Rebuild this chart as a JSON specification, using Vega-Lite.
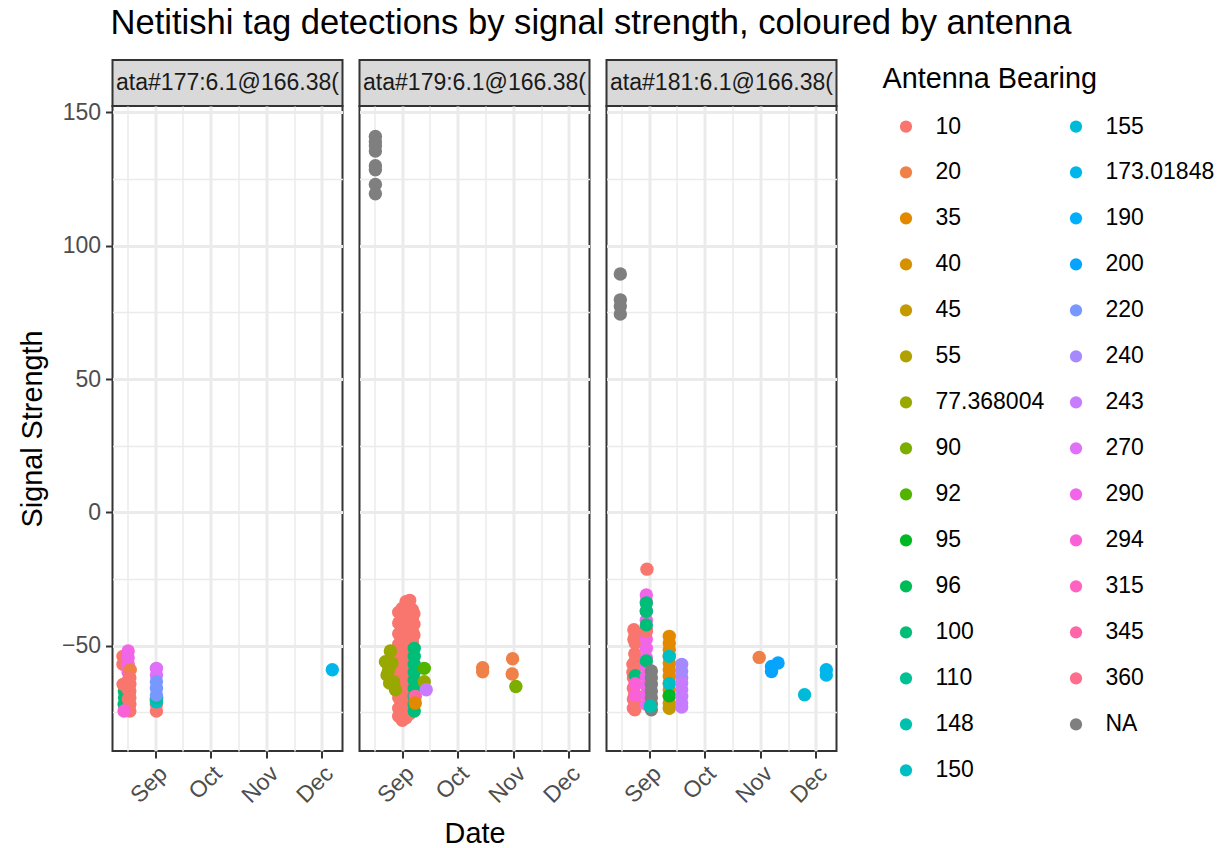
{
  "$schema": "https://vega.github.io/schema/vega-lite/v6.json",
  "padding": {"left": 16.5, "top": 6, "right": 5, "bottom": 2},
  "title": {"text": "Netitishi tag detections by signal strength, coloured by antenna", "anchor": "start", "fontSize": 34.6, "fontWeight": "normal", "color": "#000000", "offset": 17, "dx": 93},
  "datasets": {
    "strips": [
      {"panel": 1, "label": "ata#177:6.1@166.38("},
      {"panel": 2, "label": "ata#179:6.1@166.38("},
      {"panel": 3, "label": "ata#181:6.1@166.38("}
    ],
    "pts": [
      {"panel": 1, "date": "2021-08-15T00:00", "signal": -67, "bearing": "100"},
      {"panel": 1, "date": "2021-08-15T02:00", "signal": -69.5, "bearing": "100"},
      {"panel": 1, "date": "2021-08-14T22:00", "signal": -72, "bearing": "100"},
      {"panel": 1, "date": "2021-08-16T12:00", "signal": -55.5, "bearing": "96"},
      {"panel": 1, "date": "2021-08-14T06:00", "signal": -54, "bearing": "10"},
      {"panel": 1, "date": "2021-08-14T06:00", "signal": -57, "bearing": "10"},
      {"panel": 1, "date": "2021-08-14T08:00", "signal": -64.5, "bearing": "10"},
      {"panel": 1, "date": "2021-08-17T02:00", "signal": -52, "bearing": "290"},
      {"panel": 1, "date": "2021-08-17T02:00", "signal": -54.5, "bearing": "290"},
      {"panel": 1, "date": "2021-08-17T02:00", "signal": -57, "bearing": "290"},
      {"panel": 1, "date": "2021-08-17T02:00", "signal": -60, "bearing": "290"},
      {"panel": 1, "date": "2021-08-18T06:00", "signal": -59, "bearing": "20"},
      {"panel": 1, "date": "2021-08-17T04:00", "signal": -63, "bearing": "10"},
      {"panel": 1, "date": "2021-08-17T04:00", "signal": -66.5, "bearing": "10"},
      {"panel": 1, "date": "2021-08-17T04:00", "signal": -70, "bearing": "10"},
      {"panel": 1, "date": "2021-08-17T04:00", "signal": -73.5, "bearing": "10"},
      {"panel": 1, "date": "2021-08-18T00:00", "signal": -62, "bearing": "10"},
      {"panel": 1, "date": "2021-08-18T00:00", "signal": -64.5, "bearing": "10"},
      {"panel": 1, "date": "2021-08-18T00:00", "signal": -67, "bearing": "10"},
      {"panel": 1, "date": "2021-08-18T00:00", "signal": -69.5, "bearing": "10"},
      {"panel": 1, "date": "2021-08-18T00:00", "signal": -72, "bearing": "10"},
      {"panel": 1, "date": "2021-08-18T00:00", "signal": -74.5, "bearing": "10"},
      {"panel": 1, "date": "2021-08-14T20:00", "signal": -74.5, "bearing": "294"},
      {"panel": 1, "date": "2021-09-01T14:00", "signal": -74.5, "bearing": "10"},
      {"panel": 1, "date": "2021-09-01T14:00", "signal": -72, "bearing": "10"},
      {"panel": 1, "date": "2021-09-01T10:00", "signal": -70, "bearing": "20"},
      {"panel": 1, "date": "2021-09-01T14:00", "signal": -71, "bearing": "150"},
      {"panel": 1, "date": "2021-09-01T18:00", "signal": -69.5, "bearing": "110"},
      {"panel": 1, "date": "2021-09-01T14:00", "signal": -58.5, "bearing": "270"},
      {"panel": 1, "date": "2021-09-01T14:00", "signal": -61, "bearing": "270"},
      {"panel": 1, "date": "2021-09-01T14:00", "signal": -63.5, "bearing": "220"},
      {"panel": 1, "date": "2021-09-01T14:00", "signal": -66, "bearing": "220"},
      {"panel": 1, "date": "2021-09-01T14:00", "signal": -68.5, "bearing": "220"},
      {"panel": 1, "date": "2021-12-07T00:00", "signal": -59, "bearing": "173.01848"},

      {"panel": 2, "date": "2021-08-17T05:00", "signal": 141, "bearing": "NA"},
      {"panel": 2, "date": "2021-08-17T05:00", "signal": 139, "bearing": "NA"},
      {"panel": 2, "date": "2021-08-17T05:00", "signal": 137.5, "bearing": "NA"},
      {"panel": 2, "date": "2021-08-17T05:00", "signal": 135.5, "bearing": "NA"},
      {"panel": 2, "date": "2021-08-17T05:00", "signal": 130, "bearing": "NA"},
      {"panel": 2, "date": "2021-08-17T05:00", "signal": 128.5, "bearing": "NA"},
      {"panel": 2, "date": "2021-08-17T05:00", "signal": 123, "bearing": "NA"},
      {"panel": 2, "date": "2021-08-17T05:00", "signal": 119.5, "bearing": "NA"},
      {"panel": 2, "date": "2021-09-02T12:00", "signal": -47, "bearing": "294"},
      {"panel": 2, "date": "2021-09-02T12:00", "signal": -55, "bearing": "294"},
      {"panel": 2, "date": "2021-09-02T12:00", "signal": -63, "bearing": "294"},
      {"panel": 2, "date": "2021-09-03T18:00", "signal": -51, "bearing": "290"},
      {"panel": 2, "date": "2021-09-03T18:00", "signal": -59, "bearing": "290"},
      {"panel": 2, "date": "2021-09-03T18:00", "signal": -67, "bearing": "290"},
      {"panel": 2, "date": "2021-08-31T12:00", "signal": -47, "bearing": "100"},
      {"panel": 2, "date": "2021-08-31T12:00", "signal": -55, "bearing": "100"},
      {"panel": 2, "date": "2021-08-31T12:00", "signal": -63, "bearing": "110"},
      {"panel": 2, "date": "2021-08-30T00:00", "signal": -37.5, "bearing": "10"},
      {"panel": 2, "date": "2021-08-30T00:00", "signal": -41.5, "bearing": "10"},
      {"panel": 2, "date": "2021-08-30T00:00", "signal": -45.5, "bearing": "10"},
      {"panel": 2, "date": "2021-08-30T00:00", "signal": -49.5, "bearing": "10"},
      {"panel": 2, "date": "2021-08-30T00:00", "signal": -53.5, "bearing": "10"},
      {"panel": 2, "date": "2021-08-30T00:00", "signal": -57.5, "bearing": "10"},
      {"panel": 2, "date": "2021-08-30T00:00", "signal": -61.5, "bearing": "10"},
      {"panel": 2, "date": "2021-08-30T00:00", "signal": -65.5, "bearing": "10"},
      {"panel": 2, "date": "2021-08-30T00:00", "signal": -69.5, "bearing": "10"},
      {"panel": 2, "date": "2021-08-30T00:00", "signal": -73.5, "bearing": "10"},
      {"panel": 2, "date": "2021-08-30T00:00", "signal": -76.5, "bearing": "10"},
      {"panel": 2, "date": "2021-09-01T00:00", "signal": -36, "bearing": "10"},
      {"panel": 2, "date": "2021-09-01T00:00", "signal": -40, "bearing": "10"},
      {"panel": 2, "date": "2021-09-01T00:00", "signal": -44, "bearing": "10"},
      {"panel": 2, "date": "2021-09-01T00:00", "signal": -48, "bearing": "10"},
      {"panel": 2, "date": "2021-09-01T00:00", "signal": -52, "bearing": "10"},
      {"panel": 2, "date": "2021-09-01T00:00", "signal": -56, "bearing": "10"},
      {"panel": 2, "date": "2021-09-01T00:00", "signal": -60, "bearing": "10"},
      {"panel": 2, "date": "2021-09-01T00:00", "signal": -64, "bearing": "10"},
      {"panel": 2, "date": "2021-09-01T00:00", "signal": -68, "bearing": "10"},
      {"panel": 2, "date": "2021-09-01T00:00", "signal": -72, "bearing": "10"},
      {"panel": 2, "date": "2021-09-01T00:00", "signal": -76, "bearing": "10"},
      {"panel": 2, "date": "2021-09-01T00:00", "signal": -78, "bearing": "10"},
      {"panel": 2, "date": "2021-09-03T00:00", "signal": -33.5, "bearing": "10"},
      {"panel": 2, "date": "2021-09-03T00:00", "signal": -37.5, "bearing": "10"},
      {"panel": 2, "date": "2021-09-03T00:00", "signal": -41.5, "bearing": "10"},
      {"panel": 2, "date": "2021-09-03T00:00", "signal": -45.5, "bearing": "10"},
      {"panel": 2, "date": "2021-09-03T00:00", "signal": -49.5, "bearing": "10"},
      {"panel": 2, "date": "2021-09-03T00:00", "signal": -53.5, "bearing": "10"},
      {"panel": 2, "date": "2021-09-03T00:00", "signal": -57.5, "bearing": "10"},
      {"panel": 2, "date": "2021-09-03T00:00", "signal": -61.5, "bearing": "10"},
      {"panel": 2, "date": "2021-09-03T00:00", "signal": -65.5, "bearing": "10"},
      {"panel": 2, "date": "2021-09-03T00:00", "signal": -69.5, "bearing": "10"},
      {"panel": 2, "date": "2021-09-03T00:00", "signal": -73.5, "bearing": "10"},
      {"panel": 2, "date": "2021-09-03T00:00", "signal": -77, "bearing": "10"},
      {"panel": 2, "date": "2021-09-05T00:00", "signal": -33, "bearing": "10"},
      {"panel": 2, "date": "2021-09-05T00:00", "signal": -37, "bearing": "10"},
      {"panel": 2, "date": "2021-09-05T00:00", "signal": -41, "bearing": "10"},
      {"panel": 2, "date": "2021-09-05T00:00", "signal": -45, "bearing": "10"},
      {"panel": 2, "date": "2021-09-05T00:00", "signal": -49, "bearing": "10"},
      {"panel": 2, "date": "2021-09-05T00:00", "signal": -53, "bearing": "10"},
      {"panel": 2, "date": "2021-09-05T00:00", "signal": -57, "bearing": "10"},
      {"panel": 2, "date": "2021-09-05T00:00", "signal": -61, "bearing": "10"},
      {"panel": 2, "date": "2021-09-05T00:00", "signal": -65, "bearing": "10"},
      {"panel": 2, "date": "2021-09-05T00:00", "signal": -69, "bearing": "10"},
      {"panel": 2, "date": "2021-09-05T00:00", "signal": -73, "bearing": "10"},
      {"panel": 2, "date": "2021-09-05T00:00", "signal": -75.5, "bearing": "10"},
      {"panel": 2, "date": "2021-09-06T12:00", "signal": -36.5, "bearing": "10"},
      {"panel": 2, "date": "2021-09-06T12:00", "signal": -40.5, "bearing": "10"},
      {"panel": 2, "date": "2021-09-06T12:00", "signal": -44.5, "bearing": "10"},
      {"panel": 2, "date": "2021-09-06T12:00", "signal": -48.5, "bearing": "10"},
      {"panel": 2, "date": "2021-09-06T12:00", "signal": -52.5, "bearing": "10"},
      {"panel": 2, "date": "2021-09-06T12:00", "signal": -56.5, "bearing": "10"},
      {"panel": 2, "date": "2021-09-06T12:00", "signal": -60.5, "bearing": "10"},
      {"panel": 2, "date": "2021-09-06T12:00", "signal": -64.5, "bearing": "10"},
      {"panel": 2, "date": "2021-09-06T12:00", "signal": -68.5, "bearing": "10"},
      {"panel": 2, "date": "2021-09-06T12:00", "signal": -72.5, "bearing": "10"},
      {"panel": 2, "date": "2021-09-07T08:00", "signal": -38, "bearing": "10"},
      {"panel": 2, "date": "2021-09-07T08:00", "signal": -42, "bearing": "10"},
      {"panel": 2, "date": "2021-09-07T08:00", "signal": -46, "bearing": "10"},
      {"panel": 2, "date": "2021-09-07T12:00", "signal": -51, "bearing": "100"},
      {"panel": 2, "date": "2021-09-07T12:00", "signal": -54, "bearing": "100"},
      {"panel": 2, "date": "2021-09-07T12:00", "signal": -57, "bearing": "100"},
      {"panel": 2, "date": "2021-09-07T12:00", "signal": -60, "bearing": "100"},
      {"panel": 2, "date": "2021-09-07T12:00", "signal": -63, "bearing": "100"},
      {"panel": 2, "date": "2021-09-07T12:00", "signal": -66, "bearing": "100"},
      {"panel": 2, "date": "2021-09-07T12:00", "signal": -69, "bearing": "100"},
      {"panel": 2, "date": "2021-09-07T12:00", "signal": -72, "bearing": "100"},
      {"panel": 2, "date": "2021-09-07T12:00", "signal": -74.5, "bearing": "100"},
      {"panel": 2, "date": "2021-08-25T10:00", "signal": -52, "bearing": "77.368004"},
      {"panel": 2, "date": "2021-08-22T17:00", "signal": -56, "bearing": "77.368004"},
      {"panel": 2, "date": "2021-08-23T14:00", "signal": -61, "bearing": "77.368004"},
      {"panel": 2, "date": "2021-08-27T05:00", "signal": -63.5, "bearing": "77.368004"},
      {"panel": 2, "date": "2021-08-28T05:00", "signal": -66.5, "bearing": "77.368004"},
      {"panel": 2, "date": "2021-08-24T12:00", "signal": -59, "bearing": "77.368004"},
      {"panel": 2, "date": "2021-08-26T07:00", "signal": -56.5, "bearing": "77.368004"},
      {"panel": 2, "date": "2021-08-25T00:00", "signal": -64, "bearing": "77.368004"},
      {"panel": 2, "date": "2021-09-08T02:00", "signal": -69, "bearing": "345"},
      {"panel": 2, "date": "2021-09-08T02:00", "signal": -71.5, "bearing": "35"},
      {"panel": 2, "date": "2021-09-13T00:00", "signal": -58.5, "bearing": "92"},
      {"panel": 2, "date": "2021-09-13T00:00", "signal": -63.5, "bearing": "77.368004"},
      {"panel": 2, "date": "2021-09-14T02:00", "signal": -66.5, "bearing": "243"},
      {"panel": 2, "date": "2021-10-15T00:00", "signal": -58.3, "bearing": "20"},
      {"panel": 2, "date": "2021-10-15T00:00", "signal": -59.8, "bearing": "20"},
      {"panel": 2, "date": "2021-10-31T10:00", "signal": -54.9, "bearing": "20"},
      {"panel": 2, "date": "2021-10-31T05:00", "signal": -60.6, "bearing": "20"},
      {"panel": 2, "date": "2021-11-02T05:00", "signal": -65.3, "bearing": "90"},

      {"panel": 3, "date": "2021-08-16T02:00", "signal": 89.4, "bearing": "NA"},
      {"panel": 3, "date": "2021-08-16T02:00", "signal": 79.7, "bearing": "NA"},
      {"panel": 3, "date": "2021-08-16T02:00", "signal": 77.4, "bearing": "NA"},
      {"panel": 3, "date": "2021-08-16T02:00", "signal": 74.4, "bearing": "NA"},
      {"panel": 3, "date": "2021-08-23T06:00", "signal": -62, "bearing": "360"},
      {"panel": 3, "date": "2021-08-23T06:00", "signal": -66, "bearing": "360"},
      {"panel": 3, "date": "2021-08-23T06:00", "signal": -70, "bearing": "360"},
      {"panel": 3, "date": "2021-08-23T06:00", "signal": -73.5, "bearing": "360"},
      {"panel": 3, "date": "2021-08-23T12:00", "signal": -44, "bearing": "10"},
      {"panel": 3, "date": "2021-08-23T12:00", "signal": -47.5, "bearing": "10"},
      {"panel": 3, "date": "2021-08-24T06:00", "signal": -45.5, "bearing": "10"},
      {"panel": 3, "date": "2021-08-24T06:00", "signal": -49, "bearing": "10"},
      {"panel": 3, "date": "2021-08-23T00:00", "signal": -57, "bearing": "10"},
      {"panel": 3, "date": "2021-08-23T00:00", "signal": -60, "bearing": "10"},
      {"panel": 3, "date": "2021-08-24T00:00", "signal": -53, "bearing": "10"},
      {"panel": 3, "date": "2021-08-24T00:00", "signal": -56, "bearing": "10"},
      {"panel": 3, "date": "2021-08-24T00:00", "signal": -59, "bearing": "10"},
      {"panel": 3, "date": "2021-08-24T00:00", "signal": -62, "bearing": "10"},
      {"panel": 3, "date": "2021-08-24T00:00", "signal": -65, "bearing": "10"},
      {"panel": 3, "date": "2021-08-24T00:00", "signal": -68, "bearing": "10"},
      {"panel": 3, "date": "2021-08-24T00:00", "signal": -71, "bearing": "10"},
      {"panel": 3, "date": "2021-08-24T00:00", "signal": -74, "bearing": "10"},
      {"panel": 3, "date": "2021-08-24T06:00", "signal": -61.3, "bearing": "100"},
      {"panel": 3, "date": "2021-08-24T06:00", "signal": -64.3, "bearing": "294"},
      {"panel": 3, "date": "2021-08-24T06:00", "signal": -68.7, "bearing": "294"},
      {"panel": 3, "date": "2021-08-30T08:00", "signal": -31, "bearing": "290"},
      {"panel": 3, "date": "2021-08-30T08:00", "signal": -33.5, "bearing": "290"},
      {"panel": 3, "date": "2021-08-30T08:00", "signal": -37, "bearing": "290"},
      {"panel": 3, "date": "2021-08-30T08:00", "signal": -40.5, "bearing": "290"},
      {"panel": 3, "date": "2021-08-30T08:00", "signal": -44, "bearing": "290"},
      {"panel": 3, "date": "2021-08-30T08:00", "signal": -47.5, "bearing": "290"},
      {"panel": 3, "date": "2021-08-30T08:00", "signal": -51, "bearing": "290"},
      {"panel": 3, "date": "2021-08-30T08:00", "signal": -54.5, "bearing": "290"},
      {"panel": 3, "date": "2021-08-30T08:00", "signal": -58, "bearing": "290"},
      {"panel": 3, "date": "2021-08-30T08:00", "signal": -61.5, "bearing": "290"},
      {"panel": 3, "date": "2021-08-30T08:00", "signal": -65, "bearing": "290"},
      {"panel": 3, "date": "2021-08-30T08:00", "signal": -68.5, "bearing": "290"},
      {"panel": 3, "date": "2021-08-30T08:00", "signal": -72, "bearing": "290"},
      {"panel": 3, "date": "2021-08-30T16:00", "signal": -21.3, "bearing": "10"},
      {"panel": 3, "date": "2021-08-30T08:00", "signal": -44.6, "bearing": "10"},
      {"panel": 3, "date": "2021-08-30T08:00", "signal": -34, "bearing": "100"},
      {"panel": 3, "date": "2021-08-30T08:00", "signal": -37.1, "bearing": "100"},
      {"panel": 3, "date": "2021-08-30T08:00", "signal": -42.2, "bearing": "100"},
      {"panel": 3, "date": "2021-08-30T08:00", "signal": -55.7, "bearing": "100"},
      {"panel": 3, "date": "2021-09-02T02:00", "signal": -59.5, "bearing": "NA"},
      {"panel": 3, "date": "2021-09-02T02:00", "signal": -62, "bearing": "NA"},
      {"panel": 3, "date": "2021-09-02T02:00", "signal": -64.5, "bearing": "NA"},
      {"panel": 3, "date": "2021-09-02T02:00", "signal": -67, "bearing": "NA"},
      {"panel": 3, "date": "2021-09-02T02:00", "signal": -69.5, "bearing": "NA"},
      {"panel": 3, "date": "2021-09-02T02:00", "signal": -72, "bearing": "NA"},
      {"panel": 3, "date": "2021-09-02T02:00", "signal": -74, "bearing": "NA"},
      {"panel": 3, "date": "2021-09-01T12:00", "signal": -72.6, "bearing": "148"},
      {"panel": 3, "date": "2021-09-11T22:00", "signal": -71.5, "bearing": "45"},
      {"panel": 3, "date": "2021-09-11T22:00", "signal": -73.5, "bearing": "45"},
      {"panel": 3, "date": "2021-09-11T22:00", "signal": -46.5, "bearing": "35"},
      {"panel": 3, "date": "2021-09-11T22:00", "signal": -49, "bearing": "35"},
      {"panel": 3, "date": "2021-09-11T22:00", "signal": -51.5, "bearing": "35"},
      {"panel": 3, "date": "2021-09-11T22:00", "signal": -54, "bearing": "35"},
      {"panel": 3, "date": "2021-09-11T22:00", "signal": -56.5, "bearing": "35"},
      {"panel": 3, "date": "2021-09-11T22:00", "signal": -59, "bearing": "35"},
      {"panel": 3, "date": "2021-09-11T22:00", "signal": -61.5, "bearing": "35"},
      {"panel": 3, "date": "2021-09-11T22:00", "signal": -64, "bearing": "35"},
      {"panel": 3, "date": "2021-09-11T22:00", "signal": -66.5, "bearing": "35"},
      {"panel": 3, "date": "2021-09-11T22:00", "signal": -69, "bearing": "35"},
      {"panel": 3, "date": "2021-09-11T22:00", "signal": -64.3, "bearing": "150"},
      {"panel": 3, "date": "2021-09-11T22:00", "signal": -54, "bearing": "150"},
      {"panel": 3, "date": "2021-09-11T22:00", "signal": -68.8, "bearing": "95"},
      {"panel": 3, "date": "2021-09-18T17:00", "signal": -57, "bearing": "240"},
      {"panel": 3, "date": "2021-09-18T17:00", "signal": -59.5, "bearing": "240"},
      {"panel": 3, "date": "2021-09-18T17:00", "signal": -62, "bearing": "240"},
      {"panel": 3, "date": "2021-09-18T17:00", "signal": -64, "bearing": "243"},
      {"panel": 3, "date": "2021-09-18T17:00", "signal": -66.5, "bearing": "243"},
      {"panel": 3, "date": "2021-09-18T17:00", "signal": -69, "bearing": "243"},
      {"panel": 3, "date": "2021-09-18T17:00", "signal": -71.5, "bearing": "243"},
      {"panel": 3, "date": "2021-09-18T17:00", "signal": -73, "bearing": "243"},
      {"panel": 3, "date": "2021-10-31T05:00", "signal": -54.4, "bearing": "20"},
      {"panel": 3, "date": "2021-11-06T23:00", "signal": -57.8, "bearing": "200"},
      {"panel": 3, "date": "2021-11-06T23:00", "signal": -59.7, "bearing": "200"},
      {"panel": 3, "date": "2021-11-10T13:00", "signal": -56.5, "bearing": "200"},
      {"panel": 3, "date": "2021-11-25T02:00", "signal": -68.4, "bearing": "155"},
      {"panel": 3, "date": "2021-12-07T00:00", "signal": -59, "bearing": "173.01848"},
      {"panel": 3, "date": "2021-12-07T00:00", "signal": -61, "bearing": "173.01848"}
    ]
  },
  "hconcat": [
    {
      "vconcat": [
        {
          "data": {"name": "strips"},
          "transform": [{"filter": "datum.panel == 1"}],
          "width": 230, "height": 46,
          "view": {"fill": "#D9D9D9", "stroke": "#333333", "strokeWidth": 2},
          "mark": {"type": "text", "fontSize": 23, "color": "#1A1A1A"},
          "encoding": {"text": {"field": "label", "type": "nominal"}}
        },
        {
          "data": {"name": "pts"},
          "transform": [{"filter": "datum.panel == 1"}],
          "width": 230, "height": 645,
          "mark": {"type": "point", "filled": true, "size": 180, "opacity": 1},
          "encoding": {
            "x": {"field": "date", "type": "temporal",
              "scale": {"domain": [{"year": 2021, "month": 8, "date": 8, "hours": 12}, {"year": 2021, "month": 12, "date": 12, "hours": 14}], "nice": false},
              "axis": {
                "values": [{"year": 2021, "month": 8, "date": 16, "hours": 12}, {"year": 2021, "month": 9, "date": 1}, {"year": 2021, "month": 9, "date": 16}, {"year": 2021, "month": 10, "date": 1}, {"year": 2021, "month": 10, "date": 16, "hours": 12}, {"year": 2021, "month": 11, "date": 1}, {"year": 2021, "month": 11, "date": 16}, {"year": 2021, "month": 12, "date": 1}],
                "labelExpr": "date(datum.value) == 1 ? timeFormat(datum.value, '%b') : ''",
                "labelAngle": -45, "labelAlign": "right", "labelBaseline": "top", "labelPadding": 4,
                "tickOpacity": {"condition": {"test": "date(datum.value) == 1", "value": 1}, "value": 0},
                "gridWidth": {"condition": {"test": "date(datum.value) == 1", "value": 3}, "value": 1.5},
                "title": null
              }
            },
            "y": {"field": "signal", "type": "quantitative",
              "scale": {"domain": [-89.5, 152.4], "nice": false, "zero": false},
              "axis": {
                "values": [-75, -50, -25, 0, 25, 50, 75, 100, 125, 150],
                "labelExpr": "datum.value % 50 == 0 ? (datum.value < 0 ? '−' + abs(datum.value) : '' + datum.value) : ''",
                "tickOpacity": {"condition": {"test": "datum.value % 50 == 0", "value": 1}, "value": 0},
                "gridWidth": {"condition": {"test": "datum.value % 50 == 0", "value": 3}, "value": 1.5},
                "labelPadding": 5,
                "title": "Signal Strength", "titlePadding": 14
              }
            },
            "color": {"field": "bearing", "type": "nominal",
              "scale": {
                "domain": ["10","20","35","40","45","55","77.368004","90","92","95","96","100","110","148","150","155","173.01848","190","200","220","240","243","270","290","294","315","345","360","NA"],
                "range": ["#F8766D","#EF8047","#E38900","#D59100","#C49A00","#B0A100","#99A800","#7CAE00","#53B400","#00B823","#00BC57","#00BE78","#00C094","#00C1AD","#00BFC4","#00BBD8","#00B6EB","#00AEFA","#06A4FF","#7698FF","#A58AFF","#C77CFF","#DF70F8","#F166E9","#FB61D7","#FF62C1","#FF66A8","#FE6D8C","#7F7F7F"]
              },
              "legend": {"title": "Antenna Bearing"}
            }
          }
        }
      ],
      "spacing": 0,
      "bounds": "flush"
    },
    {
      "vconcat": [
        {
          "data": {"name": "strips"},
          "transform": [{"filter": "datum.panel == 2"}],
          "width": 230, "height": 46,
          "view": {"fill": "#D9D9D9", "stroke": "#333333", "strokeWidth": 2},
          "mark": {"type": "text", "fontSize": 23, "color": "#1A1A1A"},
          "encoding": {"text": {"field": "label", "type": "nominal"}}
        },
        {
          "data": {"name": "pts"},
          "transform": [{"filter": "datum.panel == 2"}],
          "width": 230, "height": 645,
          "mark": {"type": "point", "filled": true, "size": 180, "opacity": 1},
          "encoding": {
            "x": {"field": "date", "type": "temporal",
              "scale": {"domain": [{"year": 2021, "month": 8, "date": 8, "hours": 12}, {"year": 2021, "month": 12, "date": 12, "hours": 14}], "nice": false},
              "axis": {
                "values": [{"year": 2021, "month": 8, "date": 16, "hours": 12}, {"year": 2021, "month": 9, "date": 1}, {"year": 2021, "month": 9, "date": 16}, {"year": 2021, "month": 10, "date": 1}, {"year": 2021, "month": 10, "date": 16, "hours": 12}, {"year": 2021, "month": 11, "date": 1}, {"year": 2021, "month": 11, "date": 16}, {"year": 2021, "month": 12, "date": 1}],
                "labelExpr": "date(datum.value) == 1 ? timeFormat(datum.value, '%b') : ''",
                "labelAngle": -45, "labelAlign": "right", "labelBaseline": "top", "labelPadding": 4,
                "tickOpacity": {"condition": {"test": "date(datum.value) == 1", "value": 1}, "value": 0},
                "gridWidth": {"condition": {"test": "date(datum.value) == 1", "value": 3}, "value": 1.5},
                "title": "Date", "titlePadding": 12
              }
            },
            "y": {"field": "signal", "type": "quantitative",
              "scale": {"domain": [-89.5, 152.4], "nice": false, "zero": false},
              "axis": {
                "values": [-75, -50, -25, 0, 25, 50, 75, 100, 125, 150],
                "labels": false, "ticks": false, "title": null,
                "gridWidth": {"condition": {"test": "datum.value % 50 == 0", "value": 3}, "value": 1.5}
              }
            },
            "color": {"field": "bearing", "type": "nominal",
              "scale": {
                "domain": ["10","20","35","40","45","55","77.368004","90","92","95","96","100","110","148","150","155","173.01848","190","200","220","240","243","270","290","294","315","345","360","NA"],
                "range": ["#F8766D","#EF8047","#E38900","#D59100","#C49A00","#B0A100","#99A800","#7CAE00","#53B400","#00B823","#00BC57","#00BE78","#00C094","#00C1AD","#00BFC4","#00BBD8","#00B6EB","#00AEFA","#06A4FF","#7698FF","#A58AFF","#C77CFF","#DF70F8","#F166E9","#FB61D7","#FF62C1","#FF66A8","#FE6D8C","#7F7F7F"]
              },
              "legend": {"title": "Antenna Bearing"}
            }
          }
        }
      ],
      "spacing": 0,
      "bounds": "flush"
    },
    {
      "vconcat": [
        {
          "data": {"name": "strips"},
          "transform": [{"filter": "datum.panel == 3"}],
          "width": 230, "height": 46,
          "view": {"fill": "#D9D9D9", "stroke": "#333333", "strokeWidth": 2},
          "mark": {"type": "text", "fontSize": 23, "color": "#1A1A1A"},
          "encoding": {"text": {"field": "label", "type": "nominal"}}
        },
        {
          "data": {"name": "pts"},
          "transform": [{"filter": "datum.panel == 3"}],
          "width": 230, "height": 645,
          "mark": {"type": "point", "filled": true, "size": 180, "opacity": 1},
          "encoding": {
            "x": {"field": "date", "type": "temporal",
              "scale": {"domain": [{"year": 2021, "month": 8, "date": 8, "hours": 12}, {"year": 2021, "month": 12, "date": 12, "hours": 14}], "nice": false},
              "axis": {
                "values": [{"year": 2021, "month": 8, "date": 16, "hours": 12}, {"year": 2021, "month": 9, "date": 1}, {"year": 2021, "month": 9, "date": 16}, {"year": 2021, "month": 10, "date": 1}, {"year": 2021, "month": 10, "date": 16, "hours": 12}, {"year": 2021, "month": 11, "date": 1}, {"year": 2021, "month": 11, "date": 16}, {"year": 2021, "month": 12, "date": 1}],
                "labelExpr": "date(datum.value) == 1 ? timeFormat(datum.value, '%b') : ''",
                "labelAngle": -45, "labelAlign": "right", "labelBaseline": "top", "labelPadding": 4,
                "tickOpacity": {"condition": {"test": "date(datum.value) == 1", "value": 1}, "value": 0},
                "gridWidth": {"condition": {"test": "date(datum.value) == 1", "value": 3}, "value": 1.5},
                "title": null
              }
            },
            "y": {"field": "signal", "type": "quantitative",
              "scale": {"domain": [-89.5, 152.4], "nice": false, "zero": false},
              "axis": {
                "values": [-75, -50, -25, 0, 25, 50, 75, 100, 125, 150],
                "labels": false, "ticks": false, "title": null,
                "gridWidth": {"condition": {"test": "datum.value % 50 == 0", "value": 3}, "value": 1.5}
              }
            },
            "color": {"field": "bearing", "type": "nominal",
              "scale": {
                "domain": ["10","20","35","40","45","55","77.368004","90","92","95","96","100","110","148","150","155","173.01848","190","200","220","240","243","270","290","294","315","345","360","NA"],
                "range": ["#F8766D","#EF8047","#E38900","#D59100","#C49A00","#B0A100","#99A800","#7CAE00","#53B400","#00B823","#00BC57","#00BE78","#00C094","#00C1AD","#00BFC4","#00BBD8","#00B6EB","#00AEFA","#06A4FF","#7698FF","#A58AFF","#C77CFF","#DF70F8","#F166E9","#FB61D7","#FF62C1","#FF66A8","#FE6D8C","#7F7F7F"]
              },
              "legend": {"title": "Antenna Bearing"}
            }
          }
        }
      ],
      "spacing": 0,
      "bounds": "flush"
    }
  ],
  "spacing": 15,
  "resolve": {"scale": {"color": "shared"}, "legend": {"color": "shared"}},
  "config": {
    "font": "Liberation Sans",
    "view": {"stroke": "#333333", "strokeWidth": 2},
    "axis": {
      "labelFont": "Liberation Sans", "titleFont": "Liberation Sans",
      "labelFontSize": 23, "labelColor": "#4D4D4D",
      "titleFontSize": 28.8, "titleFontWeight": "normal", "titleColor": "#000000",
      "tickColor": "#333333", "tickWidth": 2, "tickSize": 7,
      "domain": false, "grid": true, "gridColor": "#EBEBEB",
      "labelOverlap": false, "labelFlush": false, "labelBound": false
    },
    "legend": {
      "titleFont": "Liberation Sans", "labelFont": "Liberation Sans",
      "titleFontSize": 28.8, "titleFontWeight": "normal", "titleColor": "#000000", "titleLimit": 400,
      "labelFontSize": 23, "labelColor": "#000000", "labelLimit": 300,
      "columns": 2, "symbolType": "circle", "symbolSize": 150, "symbolStrokeWidth": 0, "symbolOffset": 12,
      "rowPadding": 22, "columnPadding": 8, "labelOffset": 18, "titlePadding": 21, "offset": 40, "padding": 5
    }
  }
}
